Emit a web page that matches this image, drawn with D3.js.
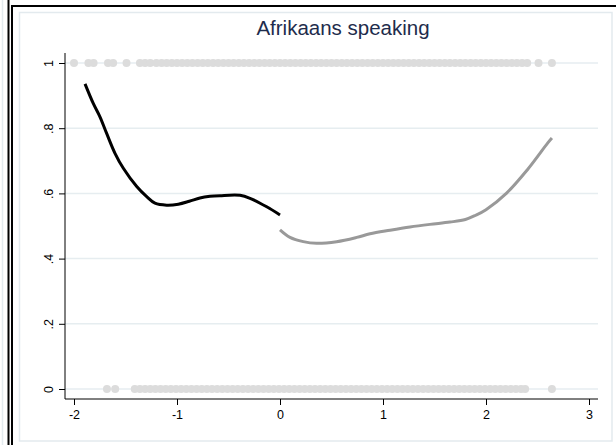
<!DOCTYPE html>
<html>
<head>
<meta charset="utf-8">
<script src="https://cdn.jsdelivr.net/npm/d3@7"></script>
<style>
  html, body { margin: 0; padding: 0; background: #fff; }
  svg { display: block; font-family: "Liberation Sans", Arial, sans-serif; }
</style>
</head>
<body>
<svg id="chart" width="616" height="445"></svg>
<script>
// Panel title
const title = "Afrikaans speaking";

// Axis ticks
const xTicks = [-2, -1, 0, 1, 2, 3];
const xTickLabels = ["-2", "-1", "0", "1", "2", "3"];
const yTicks = [0, 0.2, 0.4, 0.6, 0.8, 1];
const yTickLabels = ["0", ".2", ".4", ".6", ".8", "1"];

// Observed outcomes (markers at y = 1 and y = 0)
const xAtOne = [-2.00, -1.86, -1.81, -1.67, -1.62, -1.49,
  -1.36, -1.31, -1.26, -1.20, -1.15, -1.10, -1.05, -1.00, -0.95, -0.90, -0.85, -0.80,
  -0.75, -0.70, -0.65, -0.60, -0.55, -0.50, -0.45, -0.40, -0.35, -0.30, -0.25, -0.20,
  -0.15, -0.10, -0.05, 0.00, 0.05, 0.10, 0.15, 0.20, 0.25, 0.30, 0.35, 0.40, 0.45,
  0.50, 0.55, 0.60, 0.65, 0.70, 0.75, 0.80, 0.85, 0.90, 0.95, 1.00, 1.05, 1.10, 1.15,
  1.20, 1.25, 1.30, 1.35, 1.40, 1.45, 1.50, 1.55, 1.60, 1.65, 1.70, 1.75, 1.80, 1.85,
  1.90, 1.95, 2.00, 2.05, 2.10, 2.15, 2.20, 2.25, 2.30, 2.35, 2.40,
  2.51, 2.64];
const xAtZero = [-1.68, -1.60,
  -1.41, -1.36, -1.31, -1.26, -1.21, -1.16, -1.11, -1.06, -1.01, -0.96, -0.91, -0.86,
  -0.81, -0.76, -0.71, -0.66, -0.61, -0.56, -0.51, -0.46, -0.41, -0.36, -0.31, -0.26,
  -0.21, -0.16, -0.11, -0.06, -0.01, 0.04, 0.09, 0.14, 0.19, 0.24, 0.29, 0.34, 0.39,
  0.44, 0.49, 0.54, 0.59, 0.64, 0.69, 0.74, 0.79, 0.84, 0.89, 0.94, 0.99, 1.04, 1.09,
  1.14, 1.19, 1.24, 1.29, 1.34, 1.39, 1.44, 1.49, 1.54, 1.59, 1.64, 1.69, 1.74, 1.79,
  1.84, 1.89, 1.94, 1.99, 2.04, 2.09, 2.14, 2.19, 2.24, 2.29, 2.34, 2.38,
  2.64];

// Smoothed fit below the cutoff (x < 0)
const leftX = [-1.893, -1.813, -1.748, -1.683, -1.602, -1.521, -1.391, -1.294, -1.214,
  -1.100, -0.987, -0.880, -0.777, -0.680, -0.583, -0.388, -0.291, -0.129, 0.000];
const leftY = [0.936, 0.876, 0.835, 0.784, 0.723, 0.677, 0.621, 0.590, 0.570,
  0.564, 0.567, 0.576, 0.586, 0.591, 0.593, 0.594, 0.585, 0.559, 0.534];

// Smoothed fit above the cutoff (x >= 0)
const rightX = [0.000, 0.097, 0.226, 0.356, 0.550, 0.745, 0.874, 1.068, 1.262, 1.456,
  1.650, 1.800, 1.900, 2.000, 2.200, 2.400, 2.600, 2.640];
const rightY = [0.488, 0.465, 0.452, 0.447, 0.452, 0.465, 0.476, 0.487, 0.497, 0.505,
  0.512, 0.520, 0.533, 0.550, 0.601, 0.672, 0.755, 0.770];

const svg = d3.select("#chart");

// Frames: neighbouring panel edge, outer black frame, inner light border
svg.append("line").attr("x1", 2.5).attr("x2", 2.5).attr("y1", 0).attr("y2", 445)
  .attr("stroke", "#e3eaee").attr("stroke-width", 1.5);
svg.append("line").attr("x1", 8.5).attr("x2", 8.5).attr("y1", 0).attr("y2", 445)
  .attr("stroke", "#000").attr("stroke-width", 2);
svg.append("rect").attr("x", 12).attr("y", 6).attr("width", 620).attr("height", 460)
  .attr("fill", "#fff").attr("stroke", "#000").attr("stroke-width", 2);
svg.append("rect").attr("x", 19.5).attr("y", 12.5).attr("width", 592.5).attr("height", 428.5)
  .attr("fill", "#fff").attr("stroke", "#e3eaee").attr("stroke-width", 1.5);

// Plot region
const plot = { left: 65, right: 598, top: 53, bottom: 399 };
const x = d3.scaleLinear().domain([-2, 3]).range([74, 589]);
const y = d3.scaleLinear().domain([0, 1]).range([389, 63]);

// Gridlines
svg.append("g").selectAll("line").data(yTicks).join("line")
  .attr("x1", plot.left).attr("x2", plot.right)
  .attr("y1", d => y(d)).attr("y2", d => y(d))
  .attr("stroke", "#e6edf0").attr("stroke-width", 1.5);

// Y axis
const yAxis = svg.append("g").attr("transform", `translate(${plot.left},0)`)
  .call(d3.axisLeft(y).tickValues(yTicks).tickSize(6).tickPadding(6)
    .tickFormat((d, i) => yTickLabels[i]));
yAxis.select(".domain").attr("d", `M0,${plot.top}V${plot.bottom}`).attr("stroke", "#000");
yAxis.selectAll(".tick text")
  .attr("font-size", 12.5).attr("font-family", "Liberation Sans, Arial, sans-serif")
  .attr("fill", "#000")
  .attr("text-anchor", "middle").attr("dy", 0)
  .attr("x", 0).attr("y", 0)
  .attr("transform", "translate(-12,0) rotate(-90)");

// X axis
const xAxis = svg.append("g").attr("transform", `translate(0,${plot.bottom})`)
  .call(d3.axisBottom(x).tickValues(xTicks).tickSize(6).tickPadding(5)
    .tickFormat((d, i) => xTickLabels[i]));
xAxis.select(".domain").attr("d", `M${plot.left},0H${plot.right}`).attr("stroke", "#000");
xAxis.selectAll(".tick text")
  .attr("font-size", 12.5).attr("font-family", "Liberation Sans, Arial, sans-serif")
  .attr("fill", "#000");
svg.selectAll(".tick line").attr("stroke", "#000");

// Observed outcome markers
const dotColor = "#dcdcdc";
svg.append("g").selectAll("circle").data(xAtOne).join("circle")
  .attr("cx", d => x(d)).attr("cy", y(1)).attr("r", 4).attr("fill", dotColor);
svg.append("g").selectAll("circle").data(xAtZero).join("circle")
  .attr("cx", d => x(d)).attr("cy", y(0)).attr("r", 4).attr("fill", dotColor);

// Fitted curves
const line = d3.line().x(d => x(d[0])).y(d => y(d[1])).curve(d3.curveCatmullRom.alpha(0.5));
svg.append("path").datum(d3.zip(leftX, leftY))
  .attr("d", line).attr("fill", "none").attr("stroke", "#000")
  .attr("stroke-width", 3).attr("stroke-linejoin", "round");
svg.append("path").datum(d3.zip(rightX, rightY))
  .attr("d", line).attr("fill", "none").attr("stroke", "#999")
  .attr("stroke-width", 3).attr("stroke-linejoin", "round");

// Title
svg.append("text").attr("x", 343).attr("y", 35).attr("text-anchor", "middle")
  .attr("font-size", 20.5).attr("fill", "#1e2c4c").text(title);
</script>
</body>
</html>
